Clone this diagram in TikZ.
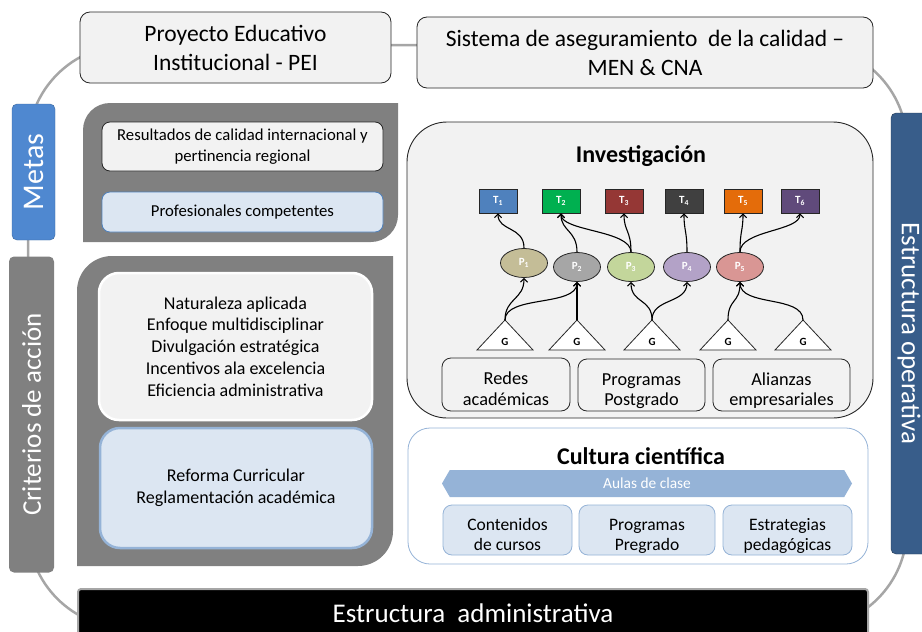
\documentclass[tikz,border=0pt]{standalone}
\usepackage{fontspec}
\setmainfont{Carlito}
\usetikzlibrary{arrows.meta, shapes.geometric, shapes.symbols}

\definecolor{boxgray}{HTML}{F2F2F2}
\definecolor{panelgray}{HTML}{808080}
\definecolor{ringgray}{HTML}{A6A6A6}
\definecolor{metasblue}{HTML}{4F88D0}
\definecolor{opblue}{HTML}{385D8A}
\definecolor{paleblue}{HTML}{DCE6F2}
\definecolor{midblue}{HTML}{95B3D7}
\definecolor{tone}{HTML}{4F81BD}
\definecolor{ttwo}{HTML}{00B050}
\definecolor{tthree}{HTML}{953735}
\definecolor{tfour}{HTML}{404040}
\definecolor{tfive}{HTML}{E46C0A}
\definecolor{tsix}{HTML}{604A7B}
\definecolor{pone}{HTML}{C4BD97}
\definecolor{ptwo}{HTML}{A6A6A6}
\definecolor{pthree}{HTML}{C3D69B}
\definecolor{pfour}{HTML}{B3A2C7}
\definecolor{pfive}{HTML}{D99694}

\tikzset{
  ring/.style={draw=ringgray, line width=2.5pt},
  topbox/.style={draw=black!85, fill=boxgray, rounded corners=10pt, line width=0.8pt,
    align=center, font=\fontsize{23.5}{29}\selectfont,
    execute at end node={\rule[-6pt]{0pt}{58pt}}},
  sidebar/.style={rounded corners=5pt, text=white, font=\fontsize{27}{30}\selectfont},
  smallbox/.style={rounded corners=8pt, line width=0.8pt, align=center,
    font=\fontsize{16.7}{21}\selectfont},
  bigbox/.style={rounded corners=20pt, line width=2.5pt, align=center,
    font=\fontsize{18}{21.7}\selectfont},
  subbox/.style={draw=black!85, fill=boxgray, rounded corners=9pt, line width=0.8pt,
    align=center, font=\fontsize{18.3}{20.5}\selectfont, inner ysep=0pt,
    execute at end node={\rule[-4pt]{0pt}{49pt}}},
  cbox/.style={draw=midblue, fill=paleblue, rounded corners=9pt, line width=0.8pt,
    align=center, font=\fontsize{17.5}{20}\selectfont, inner ysep=0pt,
    execute at end node={\rule[-4pt]{0pt}{49pt}}},
  tnode/.style={draw=black!85, line width=0.8pt, minimum width=38pt, minimum height=24pt,
    inner sep=0pt, text=white, font=\fontsize{11}{12}\selectfont\bfseries},
  pnode/.style={ellipse, draw=black!85, line width=0.8pt, minimum width=47pt, minimum height=29pt,
    inner sep=0pt, text=white, font=\fontsize{11}{12}\selectfont\bfseries},
  tri/.style={draw=black!85, fill=white, line width=0.8pt},
  glab/.style={font=\fontsize{11}{12}\selectfont\bfseries, inner sep=0pt},
  arr/.style={line width=1.1pt, -{Straight Barb[angle=90:5pt]}},
  title/.style={font=\fontsize{24}{28}\selectfont\bfseries}
}

\begin{document}
\begin{tikzpicture}[x=1pt, y=-1pt]
\useasboundingbox (0,0) rectangle (922,632);

% cycle ring behind everything
\draw[ring, rounded corners=100pt] (28,45) rectangle (907,628);

% top boxes
\node[topbox, minimum width=311pt, minimum height=71pt] (pei) at (235.5,47.5)
  {Proyecto Educativo\\Institucional - PEI};
\node[topbox, minimum width=456pt, minimum height=71pt] (sac) at (645,52.5)
  {Sistema de aseguramiento\ \ de la calidad --\\MEN \& CNA};

% side bars
\node[sidebar, draw=metasblue!75!black, fill=metasblue, rotate=90,
  font=\fontsize{30}{32}\selectfont,
  minimum width=136pt, minimum height=43pt] (metas) at (33.5,172) {Metas};
\node[sidebar, fill=panelgray, rotate=90,
  minimum width=316pt, minimum height=45pt] (criterios) at (31.5,414.5) {Criterios de acción};
\node[sidebar, draw=opblue!60!black, fill=opblue, rotate=-90,
  minimum width=441pt, minimum height=36pt] (operativa) at (909,333.5) {Estructura operativa};
\node[sidebar, draw=ringgray, line width=2pt, fill=black, rounded corners=3pt,
  minimum width=790pt, minimum height=48pt] (admin) at (473,613) {Estructura\ \ administrativa};

% metas panel
\fill[panelgray] (240,103) [rounded corners=27pt] -- (83,103) -- (83,180) [sharp corners]
  -- (83,242) -- (300,242) [rounded corners=27pt] -- (398,242) -- (398,170) [sharp corners]
  -- (398,103) -- cycle;
\node[smallbox, draw=black!85, fill=boxgray, minimum width=281pt, minimum height=49pt]
  (resultados) at (242.5,146.5) {Resultados de calidad internacional y\\pertinencia regional};
\node[smallbox, draw=tone, fill=paleblue, minimum width=281pt, minimum height=40pt]
  (profesionales) at (242.5,212) {Profesionales competentes};

% criterios panel
\fill[panelgray] (240,256) [rounded corners=35pt] -- (77,256) -- (77,400) [sharp corners]
  -- (77,566) -- (300,566) [rounded corners=35pt] -- (393,566) -- (393,400) [sharp corners]
  -- (393,256) -- cycle;
\node[bigbox, draw=white, fill=boxgray, minimum width=273pt, minimum height=147pt]
  (lineas) at (235.5,346.5) {Naturaleza aplicada\\Enfoque multidisciplinar\\Divulgación estratégica\\Incentivos ala excelencia\\Eficiencia administrativa};
\node[bigbox, draw=midblue, fill=paleblue, minimum width=272pt, minimum height=120pt]
  (reforma) at (236,488) {Reforma Curricular\\Reglamentación académica};

% investigacion
\node[draw=black!85, fill=boxgray, line width=0.9pt, rounded corners=40pt,
  minimum width=466pt, minimum height=296pt] (inv) at (640,270) {};
\node[title] (invtitle) at (641,156) {Investigación};

\node[tnode, fill=tone] (t1) at (498,201) {T\textsubscript{1}};
\node[tnode, fill=ttwo] (t2) at (561,201) {T\textsubscript{2}};
\node[tnode, fill=tthree] (t3) at (624,201) {T\textsubscript{3}};
\node[tnode, fill=tfour] (t4) at (684,201) {T\textsubscript{4}};
\node[tnode, fill=tfive] (t5) at (743,201) {T\textsubscript{5}};
\node[tnode, fill=tsix] (t6) at (800,201) {T\textsubscript{6}};

\node[pnode, fill=pone] (p1) at (524,263) {P\textsubscript{1}};
\node[pnode, fill=ptwo] (p2) at (577,267) {P\textsubscript{2}};
\node[pnode, fill=pthree] (p3) at (631,267) {P\textsubscript{3}};
\node[pnode, fill=pfour] (p4) at (687,267) {P\textsubscript{4}};
\node[pnode, fill=pfive] (p5) at (740,267) {P\textsubscript{5}};

\foreach \gx [count=\i] in {505,577,652,728,803}{
  \coordinate (g\i) at (\gx,320);
  \draw[tri] (g\i) -- ++(-28,30) -- ++(56,0) -- cycle;
  \node[glab] (glab\i) at (\gx,342) {G};
}

% groups to projects
\draw[arr] (g1) .. controls +(0,-22) and +(0,22) .. (p1.south);
\draw[arr] (g1) .. controls +(0,-25) and +(0,25) .. (p2.south);
\draw[arr] (g2) -- (p2.south);
\draw[arr] (g3) .. controls +(0,-22) and +(0,22) .. (p3.south);
\draw[arr] (g3) .. controls +(0,-22) and +(0,22) .. (p4.south);
\draw[arr] (g4) .. controls +(0,-22) and +(0,22) .. (p5.south);
\draw[arr] (g5) .. controls +(0,-25) and +(0,25) .. (p5.south);
% projects to topics
\foreach \p/\t in {p1/t1, p2/t2, p3/t2, p3/t3, p4/t4, p5/t5, p5/t6}
  \draw[arr] (\p.north) .. controls +(0,-22) and +(0,18) .. (\t.south);

\node[subbox, minimum width=128pt, minimum height=53pt] (redes) at (506,384.5)
  {Redes\\académicas};
\node[subbox, minimum width=127pt, minimum height=52pt] (postgrado) at (641.5,385)
  {Programas\\Postgrado};
\node[subbox, minimum width=137pt, minimum height=52pt] (alianzas) at (781.5,385)
  {Alianzas\\empresariales};

% cultura cientifica
\node[draw=midblue, fill=white, line width=0.8pt, rounded corners=22pt,
  minimum width=460pt, minimum height=136pt] (cultura) at (638,496) {};
\node[title] (cultitle) at (641,456) {Cultura científica};
\node[signal, signal to=east and west, signal pointer angle=120, fill=midblue,
  text=white, font=\fontsize{15.4}{17}\selectfont, inner sep=0pt,
  minimum width=410pt, minimum height=27pt] (aulas) at (647,483.5) {Aulas de clase};
\node[cbox, minimum width=129pt, minimum height=50pt] (contenidos) at (507.5,530)
  {Contenidos\\de cursos};
\node[cbox, minimum width=136pt, minimum height=50pt] (pregrado) at (647,530)
  {Programas\\Pregrado};
\node[cbox, minimum width=129pt, minimum height=50pt] (estrategias) at (787.5,530)
  {Estrategias\\pedagógicas};
\end{tikzpicture}
\end{document}
